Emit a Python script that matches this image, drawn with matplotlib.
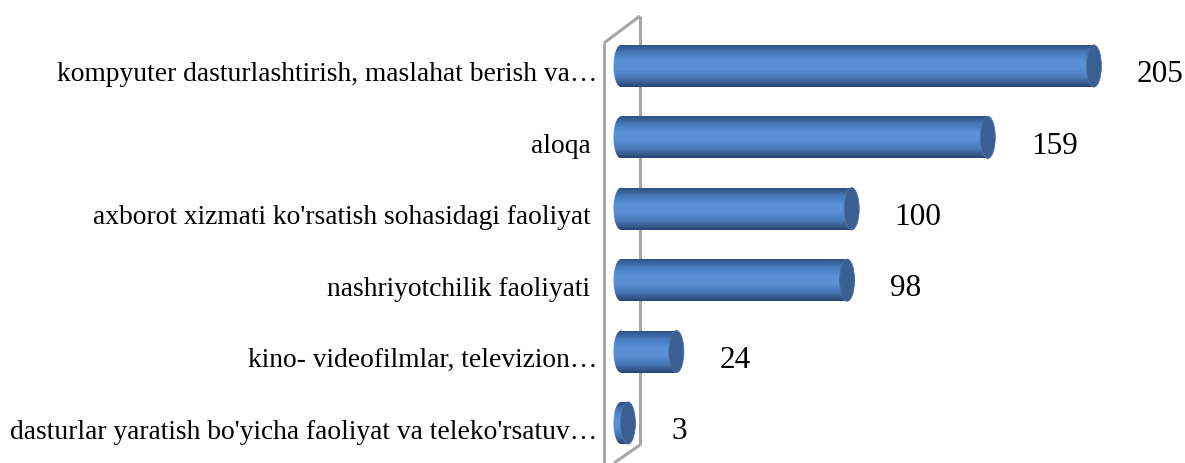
import numpy as np
import matplotlib.pyplot as plt
from matplotlib.patches import Ellipse
from matplotlib.colors import LinearSegmentedColormap

categories = [
    "kompyuter dasturlashtirish, maslahat berish va…",
    "aloqa ",
    "axborot xizmati ko'rsatish sohasidagi faoliyat ",
    "nashriyotchilik faoliyati ",
    "kino- videofilmlar, televizion…",
    "dasturlar yaratish bo'yicha faoliyat va teleko'rsatuv…",
]
values = [205, 159, 100, 98, 24, 3]

plt.rcParams['font.family'] = ['Liberation Serif', 'DejaVu Serif']

# silindr uchun vertikal gradient (yuqoridan pastga)
cyl = LinearSegmentedColormap.from_list(
    "cyl", ["#2c4c7c", "#4679bb", "#5b91d8", "#5a8fd4", "#4677b6", "#2a4672"])
grad = np.linspace(0, 1, 64).reshape(-1, 1)
cap_color = "#3a5f92"

fig = plt.figure(figsize=(11.85, 4.63), dpi=100)
ax = fig.add_axes([600 / 1185, 0, 585 / 1185, 1])

ypos = np.arange(len(categories))
shift = -0.084      # 3D ustunlar yorliqdan biroz yuqorida
h = 0.59
cap_w = 6.5

ax.set_xlim(-9.1, 244.5)
ax.set_ylim(5.476, -1.008)

bars = ax.barh(ypos + shift, values, height=h, color="none", edgecolor="none")
for bar, v in zip(bars, values):
    y0 = bar.get_y()
    # chap yumaloq uchi
    left = Ellipse((0, y0 + h / 2), cap_w, h, facecolor="none", edgecolor="none")
    ax.add_patch(left)
    im = ax.imshow(grad, cmap=cyl, aspect="auto", interpolation="bilinear",
                   extent=(-cap_w / 2, cap_w / 2, y0 + h, y0), zorder=2)
    im.set_clip_path(left)
    # asosiy tana
    im = ax.imshow(grad, cmap=cyl, aspect="auto", interpolation="bilinear",
                   extent=(0, v, y0 + h, y0), zorder=2)
    im.set_clip_path(bar)
    # o'ng uchi
    ax.add_patch(Ellipse((v, y0 + h / 2), cap_w, h, facecolor=cap_color,
                         edgecolor="#4a72a8", linewidth=0.6, zorder=3))
    ax.annotate(str(v), (v, y0 + h / 2 - shift), xytext=(31, -2),
                textcoords="offset points", ha="left", va="center",
                fontsize=22.5, color="black")

# orqa devor (3D ko'rinish)
wall = dict(color="#a6a6a6", linewidth=2.2, clip_on=False, zorder=1,
            solid_capstyle="butt")
ax.plot([-7.37, -7.37], [5.6, -0.406], **wall)
ax.plot([-7.37, 8.24], [-0.406, -0.784], **wall)
ax.plot([8.24, 8.24], [-0.784, 5.224], **wall)
ax.plot([8.24, -3.03], [5.224, 5.476], **wall)

ax.set_yticks(ypos)
ax.set_yticklabels(categories, fontsize=19.8)
ax.tick_params(axis="y", length=0, pad=2)
ax.set_xticks([])
for s in ax.spines.values():
    s.set_visible(False)

fig.savefig("out.png", dpi=100)
